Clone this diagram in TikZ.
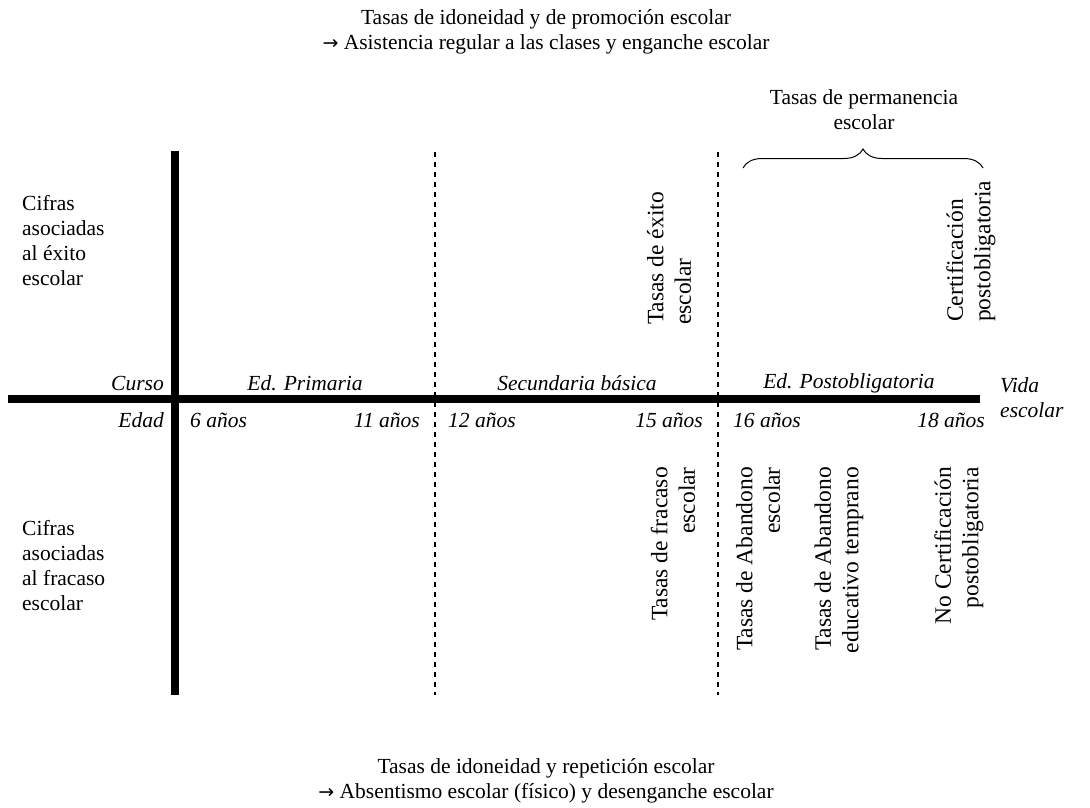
\documentclass[tikz,border=0pt]{standalone}
\usepackage{fontspec}
\setmainfont{Liberation Serif}
\newfontfamily\arrowfont{DejaVu Sans}
\usetikzlibrary{decorations.pathreplacing}
\newcommand{\bigarrow}{{\arrowfont\fontsize{19}{20}\selectfont →}}
\begin{document}
\begin{tikzpicture}[x=1pt,y=-1pt,
  txt/.style={inner sep=0pt, font=\fontsize{21.5}{25.2}\selectfont},
  itx/.style={txt, font=\fontsize{21.5}{25.2}\selectfont\itshape},
  axisline/.style={line width=8pt},
  divider/.style={line width=2pt, dash pattern=on 5pt off 5pt},
  coltext/.style={inner sep=0pt, rotate=90, font=\fontsize{23.5}{27.5}\selectfont},
  upcol/.style={coltext, align=left, anchor=west},
  downcol/.style={coltext, align=right, anchor=east}]
\useasboundingbox (0,0) rectangle (1090,807);

% headline and footline
\node[txt, align=center] (top) at (546,32)
  {Tasas de idoneidad y de promoción escolar\\\bigarrow{} Asistencia regular a las clases y enganche escolar};
\node[txt, align=center] (bottom) at (546,781)
  {Tasas de idoneidad y repetición escolar\\\bigarrow{} Absentismo escolar (físico) y desenganche escolar};

% axes
\coordinate (vtop) at (175,151);
\coordinate (vbot) at (175,695);
\coordinate (hleft) at (8,399);
\coordinate (hright) at (980,399);
\draw[axisline] (vtop) -- (vbot);
\draw[axisline] (hleft) -- (hright);

% stage dividers
\coordinate (d1t) at (435,152);
\coordinate (d1b) at (435,695);
\coordinate (d2t) at (718,152);
\coordinate (d2b) at (718,695);
\draw[divider] (d1t) -- (d1b);
\draw[divider] (d2t) -- (d2b);

% row headings
\node[txt, align=left, anchor=north west] (exito) at (22,195)
  {Cifras\\asociadas\\al éxito\\escolar};
\node[txt, align=left, anchor=north west] (fracaso) at (22,520)
  {Cifras\\asociadas\\al fracaso\\escolar};

% stage labels above the axis
\node[itx, anchor=east] (curso) at (164,383) {Curso};
\node[itx] (prim) at (305,383) {Ed. Primaria};
\node[itx] (secu) at (577,383) {Secundaria básica};
\node[itx] (post) at (849,383) {Ed. Postobligatoria};
\node[itx, align=left, anchor=west] (vida) at (1000,398) {Vida\\escolar};

% ages below the axis
\node[itx, anchor=east] (edad) at (164,420) {Edad};
\node[itx, anchor=west] (a6) at (190,420) {6 años};
\node[itx, anchor=east] (a11) at (420,420) {11 años};
\node[itx, anchor=west] (a12) at (448,420) {12 años};
\node[itx, anchor=east] (a15) at (703,420) {15 años};
\node[itx, anchor=west] (a16) at (733,420) {16 años};
\node[itx, anchor=east] (a18) at (985,420) {18 años};

% indicators of success
\node[upcol] (texito) at (669,325) {Tasas de éxito\\escolar};
\node[upcol] (cert) at (971,322) {Certificación\\postobligatoria};

% retention bracket
\coordinate (bl) at (743,168);
\coordinate (br) at (983,168);
\draw[line width=1pt, decorate, decoration={brace, amplitude=19pt, aspect=0.5}] (bl) -- (br);
\node[txt, align=center] (perm) at (864,110) {Tasas de permanencia\\escolar};

% indicators of failure
\node[downcol] (tfracaso) at (673,467) {Tasas de fracaso\\escolar};
\node[downcol] (tabandono) at (758,467) {Tasas de Abandono\\escolar};
\node[downcol] (ttemprano) at (839,467) {Tasas de Abandono\\educativo temprano};
\node[downcol] (nocert) at (959,467) {No Certificación\\postobligatoria};
\end{tikzpicture}
\end{document}
